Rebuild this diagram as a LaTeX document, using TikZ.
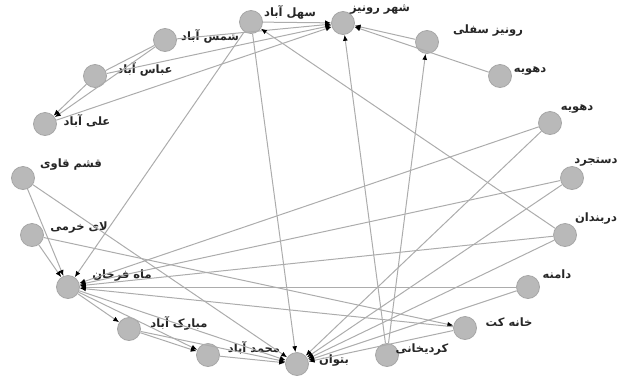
\documentclass[tikz,border=0pt]{standalone}
\usepackage{fontspec}
\newfontfamily\fa[Script=Arabic]{DejaVu Sans}
\TeXXeTstate=1
\usetikzlibrary{arrows.meta}
\tikzset{
  vtx/.style={circle,fill=gray!55,draw=gray!70,line width=0.8pt,minimum size=23pt,inner sep=0pt},
  lbl/.style={font=\fa\bfseries\fontsize{11.5}{13}\selectfont,text=black!85,inner sep=0pt},
  edge/.style={draw=gray!65,line width=1pt},
  arr/.style={edge,-{Latex[color=black,length=6pt,width=5pt]}}
}
\newcommand{\fl}[1]{\beginR #1\endR}
\begin{document}
\begin{tikzpicture}[x=1pt,y=-1pt]
\useasboundingbox (0,0) rectangle (628,378);
% vertices
\node[vtx] (SAH) at (251,22) {};
\node[vtx] (SHR) at (343,23) {};
\node[vtx] (RS) at (427,42) {};
\node[vtx] (DHa) at (500,76) {};
\node[vtx] (SHM) at (165,40) {};
\node[vtx] (ABB) at (95,76) {};
\node[vtx] (ALI) at (45,124) {};
\node[vtx] (QSH) at (23,178) {};
\node[vtx] (LAI) at (32,235) {};
\node[vtx] (MAH) at (68,287) {};
\node[vtx] (MOB) at (129,329) {};
\node[vtx] (MOH) at (208,355) {};
\node[vtx] (BAT) at (297,364) {};
\node[vtx] (KRD) at (387,355) {};
\node[vtx] (KHK) at (465,328) {};
\node[vtx] (DAM) at (528,287) {};
\node[vtx] (DAR) at (565,235) {};
\node[vtx] (DAS) at (572,178) {};
\node[vtx] (DHb) at (550,123) {};
% labels
\node[lbl] (lSAH) at (290,12) {\fl{سهل آباد}};
\node[lbl] (lSHR) at (380,10) {\fl{شهر رونیز}};
\node[lbl] (lRS) at (488,31) {\fl{رونیز سفلی}};
\node[lbl] (lDHa) at (530,71) {\fl{دهویه}};
\node[lbl] (lSHM) at (210,36) {\fl{شمس آباد}};
\node[lbl] (lABB) at (145,69) {\fl{عباس آباد}};
\node[lbl] (lALI) at (87,121) {\fl{علی آباد}};
\node[lbl] (lQSH) at (71,165) {\fl{قشم قاوی}};
\node[lbl] (lLAI) at (79,228) {\fl{لای خرمی}};
\node[lbl] (lMAH) at (122,276) {\fl{ماه فرخان}};
\node[lbl] (lMOB) at (179,323) {\fl{مبارک آباد}};
\node[lbl] (lMOH) at (254,348) {\fl{محمد آباد}};
\node[lbl] (lBAT) at (334,361) {\fl{بتوان}};
\node[lbl] (lKRD) at (422,350) {\fl{کردیخانی}};
\node[lbl] (lKHK) at (509,322) {\fl{خانه کت}};
\node[lbl] (lDAM) at (557,274) {\fl{دامنه}};
\node[lbl] (lDAR) at (596,219) {\fl{دربندان}};
\node[lbl] (lDAS) at (596,162) {\fl{دستجرد}};
\node[lbl] (lDHb) at (577,109) {\fl{دهویه}};
% edges
\draw[edge] (SHM) -- (ABB);
\draw[arr] (ABB) -- (ALI);
\draw[arr] (SHM) -- (ALI);
\draw[arr] (ABB) -- (SHR);
\draw[arr] (ALI) -- (SHR);
\draw[arr] (SHM) -- (SHR);
\draw[arr] (SAH) -- (SHR);
\draw[arr] (RS) -- (SHR);
\draw[arr] (DHa) -- (SHR);
\draw[arr] (KRD) -- (SHR);
\draw[arr] (KRD) -- (RS);
\draw[arr] (DAR) -- (SAH);
\draw[arr] (SAH) -- (MAH);
\draw[arr] (SAH) -- (BAT);
\draw[arr] (QSH) -- (MAH);
\draw[arr] (QSH) -- (BAT);
\draw[arr] (LAI) -- (MAH);
\draw[arr] (LAI) -- (KHK);
\draw[arr] (DHb) -- (MAH);
\draw[arr] (DHb) -- (BAT);
\draw[arr] (DAS) -- (MAH);
\draw[arr] (DAS) -- (BAT);
\draw[arr] (DAR) -- (MAH);
\draw[arr] (DAR) -- (BAT);
\draw[arr] (DAM) -- (MAH);
\draw[arr] (DAM) -- (BAT);
\draw[arr] (KHK) -- (MAH);
\draw[arr] (KHK) -- (BAT);
\draw[arr] (MAH) -- (MOB);
\draw[arr] (MAH) -- (MOH);
\draw[arr] (MAH) -- (BAT);
\draw[arr] (MOB) -- (MOH);
\draw[arr] (MOB) -- (BAT);
\draw[arr] (MOH) -- (BAT);
\end{tikzpicture}
\end{document}
